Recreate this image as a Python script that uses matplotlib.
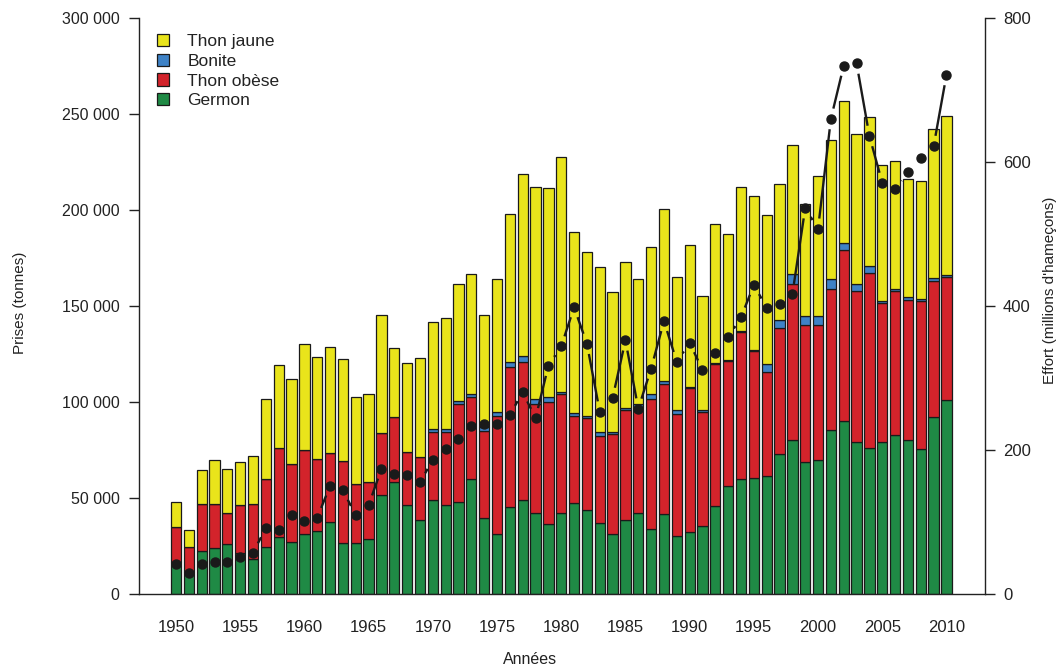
import numpy as np
import matplotlib
matplotlib.use("Agg")
import matplotlib.pyplot as plt
from matplotlib.patches import Patch
from matplotlib.ticker import FuncFormatter, MultipleLocator

plt.rcParams['font.family'] = ['Liberation Sans', 'DejaVu Sans']

years = list(range(1950, 2011))

# Catches in thousand tonnes
germon = [16.8, 11.6, 22.6, 23.8, 26.0, 21.2, 18.4, 24.3, 29.9, 26.9, 31.4,
          32.8, 37.3, 26.6, 26.4, 28.8, 51.6, 58.3, 46.4, 38.7, 49.1,
          46.2, 47.9, 59.9, 39.4, 31.3, 45.2, 49.0, 42.4, 36.5, 42.4,
          47.4, 43.9, 37.0, 31.4, 38.4, 42.0, 33.7, 41.8, 30.2, 32.1,
          35.6, 45.7, 56.3, 59.7, 60.6, 61.6, 72.9, 80.0, 68.9, 69.6,
          85.3, 89.9, 79.1, 76.0, 79.1, 82.9, 80.4, 75.4, 92.4, 101.2]

thon_obese = [18.3, 12.7, 24.1, 22.9, 16.2, 25.0, 28.3, 35.4, 46.0, 41.0, 43.6,
              37.5, 36.1, 42.5, 30.9, 29.7, 32.1, 33.7, 27.7, 32.7, 35.1,
              38.2, 50.9, 42.5, 45.7, 61.6, 73.2, 72.0, 56.4, 63.7, 61.6,
              45.5, 47.9, 45.3, 51.8, 57.3, 55.6, 67.9, 67.4, 63.6, 75.3,
              59.0, 73.9, 64.9, 76.8, 65.8, 54.0, 65.5, 81.3, 71.2, 70.5,
              73.6, 89.1, 78.6, 91.0, 72.4, 74.8, 72.5, 77.1, 70.6, 63.7]

bonite = [0, 0, 0, 0, 0, 0, 0, 0, 0, 0, 0,
          0, 0, 0, 0, 0, 0, 0, 0, 0, 1.5,
          1.6, 1.5, 2.0, 2.0, 1.7, 2.3, 3.0, 3.0, 2.2, 1.0,
          1.2, 1.1, 2.2, 1.0, 1.2, 1.4, 2.4, 1.7, 2.2, 0.6,
          1.2, 0.5, 0.7, 0.5, 0.7, 4.0, 4.1, 5.2, 4.5, 4.5,
          5.2, 3.7, 4.0, 4.0, 1.0, 1.2, 1.6, 0.9, 1.4, 1.4]

thon_jaune = [13.0, 9.0, 17.7, 23.3, 22.8, 22.8, 25.3, 41.9, 43.4, 43.9, 55.0,
              53.1, 55.4, 53.1, 45.3, 45.5, 61.8, 36.1, 46.2, 51.5, 55.8,
              57.6, 61.3, 62.1, 58.2, 69.5, 77.4, 94.6, 110.4, 108.9, 122.8,
              94.4, 85.1, 86.0, 72.9, 76.2, 65.1, 76.7, 89.4, 69.0, 73.6,
              59.2, 72.4, 65.8, 74.8, 80.0, 77.6, 71.0, 67.2, 58.4, 72.9,
              72.3, 74.0, 78.1, 77.6, 70.7, 66.7, 61.4, 61.6, 77.6, 82.5]

# Effort, millions of hooks
effort = [41.7, 29.6, 42.0, 45.0, 44.4, 51.8, 57.4, 91.7, 88.9, 109.7, 101.4,
          106.0, 150.4, 144.0, 109.3, 123.2, 174.0, 166.7, 165.7, 155.0, 186.5,
          201.8, 215.7, 233.8, 236.1, 236.5, 248.6, 280.6, 244.0, 317.1, 344.0,
          398.2, 347.7, 253.2, 272.2, 352.4, 257.4, 313.0, 379.2, 322.2, 349.0,
          311.1, 334.3, 356.5, 384.3, 429.2, 397.7, 402.3, 416.2, 536.1, 507.0,
          660.0, 734.0, 737.0, 636.0, 571.0, 562.0, 586.0, 605.0, 622.0, 721.0]

series_names = ["Germon", "Thon obèse", "Bonite", "Thon jaune"]
colors = {"Thon jaune": "#E9E41B", "Bonite": "#3E82C6",
          "Thon obèse": "#D3232B", "Germon": "#1F8A45"}

W, H = 1063, 668
fig = plt.figure(figsize=(W / 100, H / 100), dpi=100)
ax = fig.add_axes([139 / W, 1 - 594 / H, (985 - 139) / W, (594 - 18) / H])

x = np.array(years)
data = {"Germon": germon, "Thon obèse": thon_obese, "Bonite": bonite, "Thon jaune": thon_jaune}
bottom = np.zeros(len(years))
for name in series_names:
    vals = np.array(data[name]) * 1000
    ax.bar(x, vals, bottom=bottom, width=0.8, color=colors[name],
           edgecolor="#1a1a1a", linewidth=0.9, zorder=2)
    bottom += vals

ax.set_xlim(1947.12, 2013.0)
ax.set_ylim(0, 300000)
ax.yaxis.set_major_locator(MultipleLocator(50000))
ax.yaxis.set_major_formatter(FuncFormatter(lambda v, p: format(int(v), ",").replace(",", " ")))
ax.set_xticks(list(range(1950, 2011, 5)))
ax.tick_params(axis="x", length=0, pad=19, labelsize=12, colors="#222222")
ax.tick_params(axis="y", length=7, width=1, pad=7, labelsize=11.5, colors="#222222")
ax.spines["top"].set_visible(False)
for s in ["left", "bottom"]:
    ax.spines[s].set_color("#222222")
    ax.spines[s].set_linewidth(1)
ax.spines["right"].set_visible(False)

ax2 = ax.twinx()
ax2.set_ylim(0, 800)
ax2.set_xlim(1947.12, 2013.0)
ax2.yaxis.set_major_locator(MultipleLocator(200))
ax2.tick_params(axis="y", length=7, width=1, pad=6, labelsize=12, colors="#222222")
for s in ["top", "left", "bottom"]:
    ax2.spines[s].set_visible(False)
ax2.spines["right"].set_color("#222222")
ax2.spines["right"].set_linewidth(1)

# points with gapped connecting lines (R type="b" style)
ax2.plot(x, effort, "o", color="#1a1a1a", markersize=6.5, zorder=5)
fig.canvas.draw()
trans = ax2.transData
pts = trans.transform(np.column_stack([x, effort]))
gap = 10.5
inv = trans.inverted()
for i in range(len(pts) - 1):
    p1, p2 = pts[i], pts[i + 1]
    d = p2 - p1
    L = np.hypot(*d)
    if L > 2 * gap:
        u = d / L
        a = inv.transform(p1 + u * gap)
        b = inv.transform(p2 - u * gap)
        ax2.plot([a[0], b[0]], [a[1], b[1]], color="#1a1a1a", linewidth=1.7,
                 solid_capstyle="butt", zorder=4)

fig.text(20 / W, 1 - 303 / H, "Prises (tonnes)", rotation=90, ha="center", va="center",
         fontsize=11, color="#222222")
fig.text(1050 / W, 1 - 290 / H, "Effort (millions d'hameçons)", rotation=90, ha="center",
         va="center", fontsize=11, color="#222222")
fig.text(530 / W, 1 - 660 / H, "Années", ha="center", va="center", fontsize=11.5, color="#222222")

handles = [Patch(facecolor=colors[n], edgecolor="#1a1a1a", linewidth=0.9)
           for n in ["Thon jaune", "Bonite", "Thon obèse", "Germon"]]
leg = ax.legend(handles, ["Thon jaune", "Bonite", "Thon obèse", "Germon"],
                loc="upper left", bbox_to_anchor=(0.0213, 0.972), borderaxespad=0,
                borderpad=0, frameon=False, fontsize=12.5, handlelength=0.7,
                handleheight=0.7, handletextpad=1.05, labelspacing=0.26)
for t in leg.get_texts():
    t.set_color("#222222")

fig.savefig("out.png", dpi=100)
